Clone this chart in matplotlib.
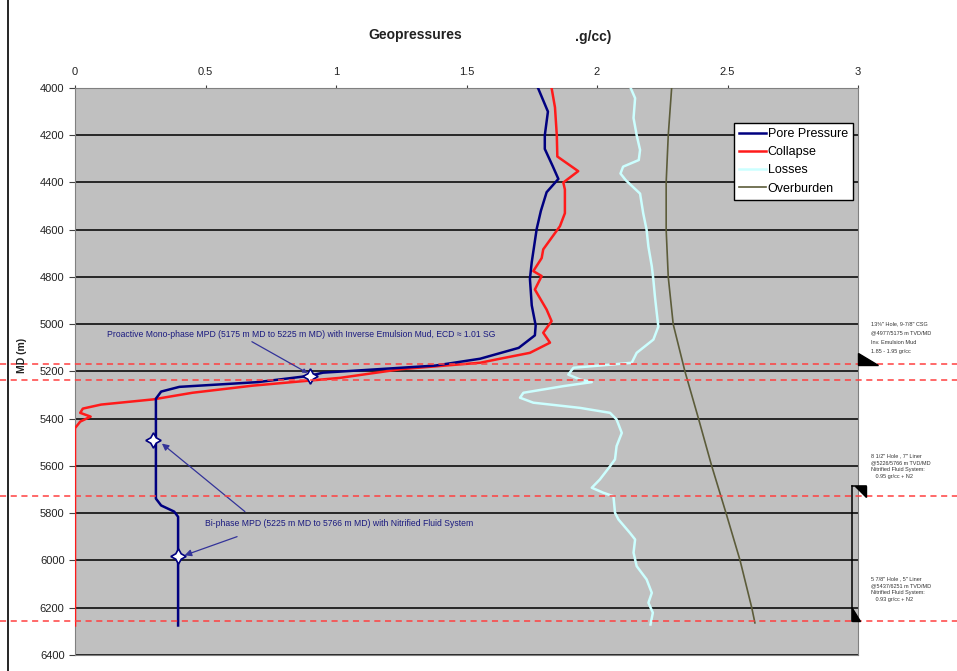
import matplotlib.pyplot as plt
from matplotlib.patches import Polygon
from matplotlib.lines import Line2D

# depths (m MD) and gradients (g/cc)
pore_md = [4000, 4100, 4200, 4258, 4330, 4385, 4441, 4520, 4596, 4737, 4808, 4920, 5005,
           5047, 5100, 5146, 5175, 5205, 5218, 5245, 5265, 5285, 5315, 5738, 5767, 5793,
           5815, 6275]
pore = [1.774, 1.812, 1.80, 1.80, 1.83, 1.852, 1.807, 1.785, 1.769, 1.75, 1.743, 1.75, 1.765,
        1.762, 1.70, 1.552, 1.38, 0.95, 0.90, 0.70, 0.40, 0.33, 0.31, 0.31, 0.33, 0.38,
        0.395, 0.395]

collapse_md = [4000, 4082, 4200, 4290, 4352, 4400, 4430, 4530, 4585, 4683, 4720, 4775, 4796,
               4853, 4938, 4987, 5036, 5078, 5121, 5146, 5163, 5190, 5227, 5260, 5290, 5318,
               5340, 5357, 5375, 5391, 5412, 5440, 6275]
collapse = [1.826, 1.839, 1.846, 1.848, 1.928, 1.871, 1.877, 1.877, 1.858, 1.794, 1.788, 1.756,
            1.788, 1.762, 1.807, 1.826, 1.794, 1.82, 1.743, 1.628, 1.552, 1.25, 1.015, 0.68,
            0.45, 0.30, 0.10, 0.03, 0.02, 0.06, 0.02, 0.0, 0.0]

losses_md = [4000, 4043, 4127, 4200, 4262, 4305, 4333, 4362, 4390, 4447, 4530, 4600, 4672,
             4755, 4812, 4883, 4953, 5010, 5065, 5121, 5163, 5170, 5184, 5213, 5234, 5245,
             5262, 5290, 5311, 5332, 5354, 5375, 5403, 5460, 5516, 5572, 5601, 5657, 5692,
             5713, 5728, 5798, 5826, 5883, 5911, 5967, 6024, 6080, 6137, 6179, 6221, 6271]
losses = [2.129, 2.146, 2.14, 2.152, 2.165, 2.16, 2.10, 2.09, 2.11, 2.165, 2.177, 2.19, 2.197,
          2.21, 2.216, 2.222, 2.229, 2.235, 2.216, 2.152, 2.133, 2.063, 1.91, 1.89, 1.935,
          1.98, 1.871, 1.718, 1.705, 1.756, 1.935, 2.05, 2.075, 2.095, 2.075, 2.069, 2.05,
          2.011, 1.98, 2.024, 2.063, 2.069, 2.082, 2.126, 2.146, 2.14, 2.152, 2.19, 2.21,
          2.197, 2.214, 2.205]

ob_md = [4000, 4200, 4400, 4600, 4800, 5000, 5200, 5396, 5598, 5798, 5999, 6200, 6264]
overburden = [2.286, 2.273, 2.265, 2.265, 2.273, 2.292, 2.337, 2.388, 2.439, 2.494, 2.548,
              2.593, 2.605]

# casing points / fluid changes (red dashed)
shoe_md = [5168, 5236, 5725, 6255]

# MPD markers
mark_grad = [0.90, 0.30, 0.395]
mark_md = [5217, 5488, 5983]

notes = [
    (5057, 2.0, '13\u215c" Hole, 9-7/8" CSG\n@4977/5175 m TVD/MD\nInv. Emulsion Mud\n1.85 - 1.95 gr/cc'),
    (5602, 1.5, '8 1/2" Hole , 7" Liner\n@5226/5766 m TVD/MD\nNitrified Fluid System:\n   0.95 gr/cc + N2'),
    (6122, 1.5, '5 7/8" Hole , 5" Liner\n@5437/6251 m TVD/MD\nNitrified Fluid System:\n   0.93 gr/cc + N2'),
]

plt.rcParams['font.family'] = ['Liberation Sans', 'DejaVu Sans']

fig = plt.figure(figsize=(9.57, 6.71), dpi=100)
ax = fig.add_axes([75/957, 1-655/671, 783/957, 567/671])
ax.set_facecolor('#c0c0c0')

ax.set_xlim(0, 3)
ax.set_ylim(6400, 4000)
ax.set_yticks(range(4000, 6401, 200))
ax.set_xticks([0, 0.5, 1, 1.5, 2, 2.5, 3])
ax.set_xticklabels(['0', '0.5', '1', '1.5', '2', '2.5', '3'])
ax.xaxis.tick_top()
ax.tick_params(axis='both', labelsize=8, color='#404040', length=4, labelcolor='#222222')
ax.tick_params(axis='x', pad=6, length=2)
ax.grid(axis='y', color='#1a1a1a', lw=1.3)
ax.set_axisbelow(True)
for s in ax.spines.values():
    s.set_color('#808080')

ax.plot(losses, losses_md, color='#ccffff', lw=1.8, label='Losses', zorder=3)
ax.plot(overburden, ob_md, color='#5c5c3a', lw=1.2, label='Overburden', zorder=3)
ax.plot(collapse, collapse_md, color='#ff1a1a', lw=1.8, label='Collapse', zorder=4)
ax.plot(pore, pore_md, color='#000080', lw=1.8, label='Pore Pressure', zorder=5)
ax.plot(mark_grad, mark_md, ls='none', marker=(4, 1, 0), ms=11, mfc='white', mec='#000080',
        mew=1.2, zorder=6)

for d in shoe_md:
    ax.axhline(d, xmin=-0.096, xmax=1.126, color='#ff4040', lw=1.1, ls=(0, (4, 3)),
               clip_on=False, zorder=6)

h, l = ax.get_legend_handles_labels()
order = [3, 2, 0, 1]
leg = ax.legend([h[i] for i in order], [l[i] for i in order], loc='upper right',
                bbox_to_anchor=(0.998, 0.945), fontsize=9, handlelength=2.2,
                fancybox=False, framealpha=1, edgecolor='black', borderpad=0.4,
                labelspacing=0.5, handletextpad=0.1, borderaxespad=0.3)
leg.get_frame().set_linewidth(1.0)
leg.set_zorder(10)

# annotations
ax.annotate('Proactive Mono-phase MPD (5175 m MD to 5225 m MD) with Inverse Emulsion Mud, ECD \u2248 1.01 SG',
            xy=(0.90, 5212), xytext=(0.123, 5043), fontsize=6.2, color='#1a1a80', va='center',
            arrowprops=dict(arrowstyle='-|>', color='#333399', lw=0.9, shrinkA=0, shrinkB=2,
                            relpos=(0.36, 0.0)), zorder=7)
ax.text(0.498, 5843, 'Bi-phase MPD (5225 m MD to 5766 m MD) with Nitrified Fluid System',
        fontsize=6.2, color='#1a1a80', va='center', zorder=7)
ax.annotate('', xy=(0.333, 5505), xytext=(0.651, 5793),
            arrowprops=dict(arrowstyle='-|>', color='#333399', lw=0.9, shrinkA=0, shrinkB=0))
ax.annotate('', xy=(0.42, 5978), xytext=(0.621, 5899),
            arrowprops=dict(arrowstyle='-|>', color='#333399', lw=0.9, shrinkA=0, shrinkB=0))

# right-hand casing notes and shoe symbols
for d, sp, t in notes:
    ax.text(3.05, d, t, fontsize=4.0, color='#333333', va='center', linespacing=sp,
            clip_on=False)
ax.add_patch(Polygon([(3.0, 5120), (3.0, 5172), (3.075, 5172)], closed=True,
                     color='black', clip_on=False, zorder=8))
ax.add_patch(Polygon([(2.99, 5685), (3.03, 5685), (3.03, 5730)], closed=True,
                     color='black', clip_on=False, zorder=8))
ax.add_line(Line2D([2.977, 2.977], [5685, 6255], color='black', lw=1.1, clip_on=False, zorder=8))
ax.add_line(Line2D([2.977, 3.03], [5685, 5685], color='black', lw=1.1, clip_on=False, zorder=8))
ax.add_patch(Polygon([(2.977, 6200), (2.977, 6256), (3.008, 6256)], closed=True,
                     color='black', clip_on=False, zorder=8))

fig.text(415/957, 1-35/671, 'Geopressures', fontsize=10, fontweight='bold', ha='center',
         va='center', color='#222222')
fig.text(593/957, 1-37/671, '.g/cc)', fontsize=10, fontweight='bold', ha='center',
         va='center', color='#222222')
fig.text(22/957, 1-355/671, 'MD (m)', fontsize=7.5, fontweight='bold', rotation=90,
         ha='center', va='center', color='#222222')
fig.add_artist(Line2D([8/957, 8/957], [0, 1], color='black', lw=1.2))

fig.savefig('out.png', dpi=100)
